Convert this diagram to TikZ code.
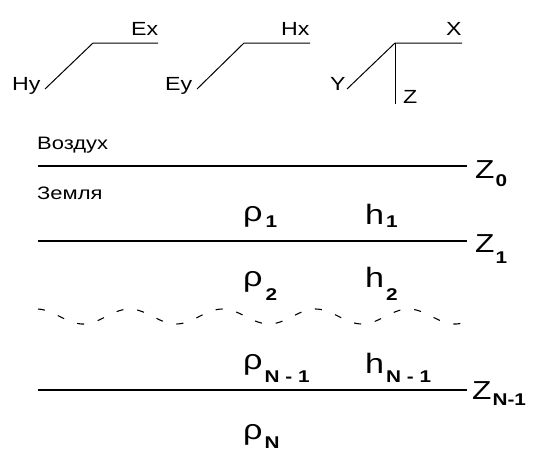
\documentclass[tikz,border=0pt]{standalone}
\usepackage{fontspec}
\setmainfont{Liberation Sans}[FakeStretch=1.22]
\usepackage{tikz}
\usepackage{xcolor}

% font sizes for the labels
\newcommand\axfont{\fontsize{19}{22}\selectfont}
\newcommand\zonefont{\fontsize{18}{21}\selectfont}
\newcommand\symfont{\fontsize{28}{31}\selectfont}
\newcommand\zfont{\fontsize{26}{29}\selectfont}
\newcommand\subfont{\fontsize{17}{19}\selectfont\bfseries}
\newcommand\lowsub[3]{\hspace{#1}\raisebox{-#2}{\subfont #3}}

\begin{document}
\begin{tikzpicture}[x=1pt, y=-1pt,
    axis/.style={line width=1pt},
    bound/.style={line width=1.1pt},
    wave/.style={line width=1.1pt, dash pattern=on 7pt off 14pt},
    lbl/.style={inner sep=0pt, anchor=base west}]
  \useasboundingbox (0,0) rectangle (536,453);
  % three frames of axes
  \draw[axis] (45,89) -- (93,43) -- (158,43);
  \node[lbl, font=\axfont] (hy) at (12,90) {Hy};
  \node[lbl, font=\axfont] (ex) at (131,35) {Ex};
  \draw[axis] (197,89) -- (244,43) -- (310,43);
  \node[lbl, font=\axfont] (ey) at (165,90) {Ey};
  \node[lbl, font=\axfont] (hx) at (281,35) {Hx};
  \draw[axis] (347,89) -- (395,43) -- (462,43);
  \draw[axis] (395,43) -- (395,104);
  \node[lbl, font=\axfont] (ya) at (330,90) {Y};
  \node[lbl, font=\axfont] (xa) at (446,35) {X};
  \node[lbl, font=\axfont] (za) at (403,103) {Z};
  % air / ground
  \node[lbl, font=\zonefont] (air) at (37,149) {Воздух};
  \node[lbl, font=\zonefont] (earth) at (37,199) {Земля};
  % layer boundaries
  \draw[bound] (38,166) -- (467,166);
  \draw[bound] (38,241) -- (467,241);
  \draw[bound] (38,390) -- (467,390);
  \node[lbl, font=\zfont] (z0) at (475,178) {Z\lowsub{1pt}{8pt}{0}};
  \node[lbl, font=\zfont] (z1) at (475,252) {Z\lowsub{1pt}{11pt}{1}};
  \node[lbl, font=\zfont] (zn) at (472,399) {Z\lowsub{1pt}{6pt}{N-1}};
  % resistivities and thicknesses
  \node[lbl, font=\symfont] (rho1) at (243,221) {ρ\lowsub{3pt}{6pt}{1}};
  \node[lbl, font=\symfont] (h1) at (365,224) {h\lowsub{2pt}{3pt}{1}};
  \node[lbl, font=\symfont] (rho2) at (243,286) {ρ\lowsub{3pt}{14pt}{2}};
  \node[lbl, font=\symfont] (h2) at (365,287) {h\lowsub{2pt}{13pt}{2}};
  \node[lbl, font=\symfont] (rhon1) at (243,369) {ρ\lowsub{2pt}{13pt}{N - 1}};
  \node[lbl, font=\symfont] (hn1) at (365,373) {h\lowsub{2pt}{9pt}{N - 1}};
  \node[lbl, font=\symfont] (rhon) at (243,439) {ρ\lowsub{2pt}{9pt}{N}};
  % omitted layers
  \draw[wave] plot[domain=38:468, samples=150] (\x, {316.5+7.5*cos(3.871*(\x-83))});
\end{tikzpicture}
\end{document}
